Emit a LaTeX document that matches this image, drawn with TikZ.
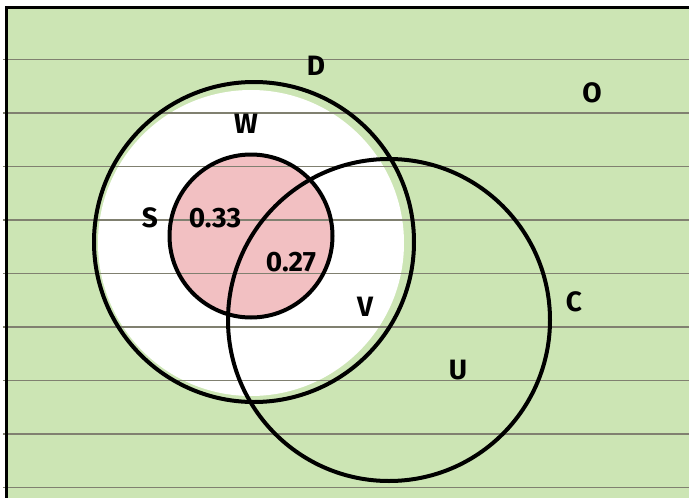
\documentclass[tikz,border=0pt]{standalone}
\usepackage{fontspec}
\setmainfont{Fira Sans}
\definecolor{paper}{RGB}{204,229,180}
\definecolor{rule}{RGB}{128,128,112}
\definecolor{pinkfill}{RGB}{242,192,194}
\tikzset{
  setline/.style={black, line width=4pt},
  ruleline/.style={rule, line width=1.2pt},
  lbl/.style={font=\fontsize{28}{30}\selectfont\bfseries, text=black, inner sep=0pt},
}
\begin{document}
\begin{tikzpicture}[x=1pt,y=-1pt]
\useasboundingbox (0,0) rectangle (689,498);
\fill[white] (0,0) rectangle (689,498);
\fill[paper] (6,7) rectangle (689,498);
% inner fills
\fill[white] (251,243) circle (153);
\fill[pinkfill] (251,236) circle (81.5);
% ruled lines
\foreach \yy in {59.5,113,166.5,220,273.5,327,380.5,434,487.5}
  \draw[ruleline] (3,\yy) -- (689,\yy);
% set outlines
\draw[setline] (254,242) circle (160);
\draw[setline] (251,236) circle (81.5);
\draw[setline] (389,320) circle (161);
% border
\draw[black, line width=3.5pt] (6.5,498) -- (6.5,7.5) -- (689,7.5);
% labels
\node[lbl] (lD) at (316,66) {D};
\node[lbl] (lO) at (592,93) {O};
\node[lbl] (lW) at (246,124) {W};
\node[lbl] (lS) at (150,218) {S};
\node[lbl] (l33) at (215,218) {0.33};
\node[lbl] (l27) at (291,262) {0.27};
\node[lbl] (lV) at (365,307) {V};
\node[lbl] (lC) at (574,302) {C};
\node[lbl] (lU) at (458,370) {U};
\end{tikzpicture}
\end{document}
